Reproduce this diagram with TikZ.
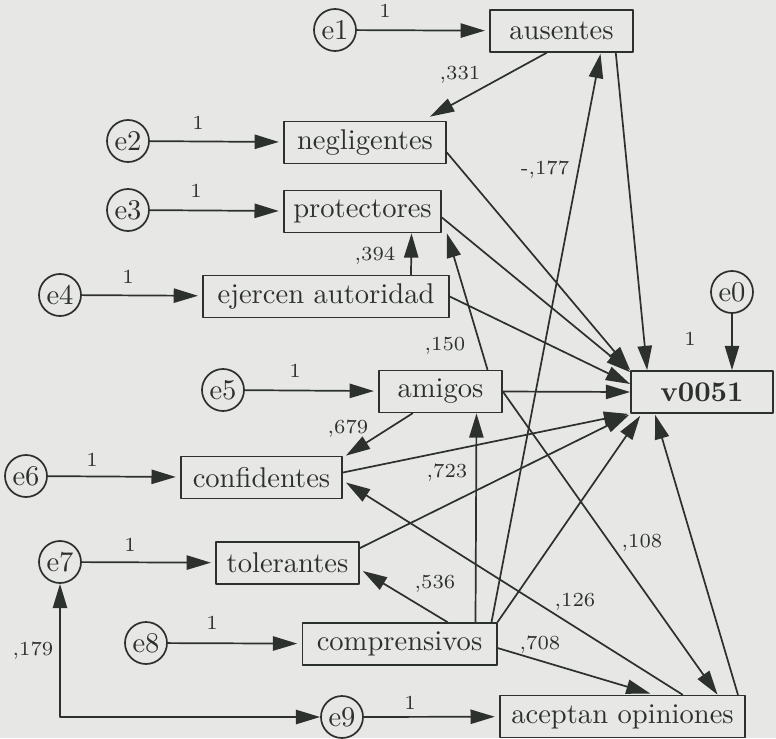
\documentclass[tikz,border=0pt]{standalone}
\usetikzlibrary{arrows.meta, calc}

\definecolor{paper}{RGB}{231,232,230}
\definecolor{ink}{RGB}{45,49,45}

\begin{document}
\begin{tikzpicture}[x=0.35pt,y=-0.35pt,line cap=round,line join=round,
  >={Triangle[length=8.5pt,width=5pt]},
  var/.style={draw=ink, line width=0.6pt, minimum height=14.7pt, inner sep=0pt, text=ink},
  err/.style={circle, draw=ink, line width=0.6pt, minimum size=14.7pt, inner sep=0pt, text=ink},
  lbl/.style={font=\scriptsize, text=ink, inner sep=0pt},
  link/.style={->, draw=ink, line width=0.6pt}]

\fill[paper] (0,0) rectangle (776,738);
\useasboundingbox (0,0) rectangle (776,738);

% variables
\node[var, minimum width=50pt] (ausentes) at (561.5,31) {ausentes};
\node[var, minimum width=56.7pt] (negligentes) at (365,142.5) {negligentes};
\node[var, minimum width=55pt] (protectores) at (362.5,211.5) {protectores};
\node[var, minimum width=86pt] (ejercen) at (326,296.5) {ejercen autoridad};
\node[var, minimum width=49.7pt, font=\bfseries] (v0051) at (702,392) {v0051};
\node[var, minimum width=43pt] (amigos) at (440.5,391.5) {amigos};
\node[var, minimum width=56.4pt] (confidentes) at (261.5,477.5) {confidentes};
\node[var, minimum width=50pt] (tolerantes) at (287.5,563) {tolerantes};
\node[var, minimum width=68pt] (comprensivos) at (399.5,644) {comprensivos};
\node[var, minimum width=85.8pt] (aceptan) at (622.5,716.5) {aceptan opiniones};

% errors
\node[err] (e0) at (732,292) {e0};
\node[err] (e1) at (335,30) {e1};
\node[err] (e2) at (128,141) {e2};
\node[err] (e3) at (128,210) {e3};
\node[err] (e4) at (60,295) {e4};
\node[err] (e5) at (223,390) {e5};
\node[err] (e6) at (26,476) {e6};
\node[err] (e7) at (60,562) {e7};
\node[err] (e8) at (146,643) {e8};
\node[err] (e9) at (342,717) {e9};

\foreach \e/\v in {e1/ausentes, e2/negligentes, e3/protectores, e4/ejercen, e5/amigos,
  e6/confidentes, e7/tolerantes, e8/comprensivos, e9/aceptan}
  \draw[link, shorten >=1.5pt] (\e) -- (\v);

\draw[link] (e0) -- (e0 |- v0051.north);
\draw[link, <->] (e7) |- (e9);

% paths into v0051
\draw[link] ($(ausentes.south east)+(-18,0)$) -- ($(v0051.north west)+(17,0)$);
\draw[link] ($(negligentes.east)+(0,10)$) -- (v0051.north west);
\draw[link] ($(protectores.east)+(0,6)$) -- ($(v0051.north west)+(0,2)$);
\draw[link] (ejercen.east) -- ($(v0051.west)+(0,-8)$);
\draw[link] (amigos.east) -- (v0051.west);
\draw[link] ($(confidentes.east)+(0,-5)$) -- ($(v0051.south west)+(-2,0)$);
\draw[link] ($(tolerantes.north east)+(0,7)$) -- ($(v0051.south west)+(-1,1)$);
\draw[link] (comprensivos.north east) -- ($(v0051.south west)+(10,2)$);
\draw[link] ($(aceptan.north east)+(-8,0)$) -- ($(v0051.south west)+(25,1)$);

% other paths
\draw[link] ($(ausentes.south)+(-15,0)$) -- ($(negligentes.north)+(65,-4)$);
\draw[link] ($(ejercen.north)+(85,0)$) -- ($(protectores.south)+(49,0)$);
\draw[link] ($(amigos.north)+(47,0)$) -- ($(protectores.south east)+(5,0)$);
\draw[link] ($(amigos.south)+(-28,0)$) -- ($(confidentes.north east)+(3,0)$);
\draw[link] (amigos.east) -- ($(aceptan.north)+(95,0)$);
\draw[link] ($(comprensivos.north)+(76,0)$) -- ($(amigos.south)+(36,0)$);
\draw[link] ($(comprensivos.north)+(48,0)$) -- ($(tolerantes.east)+(3,8)$);
\draw[link] ($(comprensivos.north)+(92,0)$) -- ($(ausentes.south)+(39,1)$);
\draw[link] ($(comprensivos.east)+(0,4)$) -- ($(aceptan.north)+(28,-1)$);
\draw[link] ($(aceptan.north)+(60,0)$) -- ($(confidentes.east)+(3,5)$);

% coefficients
\node[lbl] (w1a) at (385,11) {1};
\node[lbl] (w1b) at (198,123) {1};
\node[lbl] (w1c) at (196,191) {1};
\node[lbl] (w1d) at (128,277) {1};
\node[lbl] (w1e) at (690,339) {1};
\node[lbl] (w1f) at (295,371) {1};
\node[lbl] (w1g) at (92,460) {1};
\node[lbl] (w1h) at (130,545) {1};
\node[lbl] (w1i) at (212,623) {1};
\node[lbl] (w1j) at (410,703) {1};
\node[lbl] (w331) at (460,75) {,331};
\node[lbl] (w177) at (545,170) {-,177};
\node[lbl] (w394) at (375,256) {,394};
\node[lbl] (w150) at (445,346) {,150};
\node[lbl] (w679) at (348,429) {,679};
\node[lbl] (w723) at (447,473) {,723};
\node[lbl] (w108) at (642,543) {,108};
\node[lbl] (w536) at (435,584) {,536};
\node[lbl] (w126) at (575,602) {,126};
\node[lbl] (w179) at (33,651) {,179};
\node[lbl] (w708) at (540,645) {,708};

\end{tikzpicture}
\end{document}
